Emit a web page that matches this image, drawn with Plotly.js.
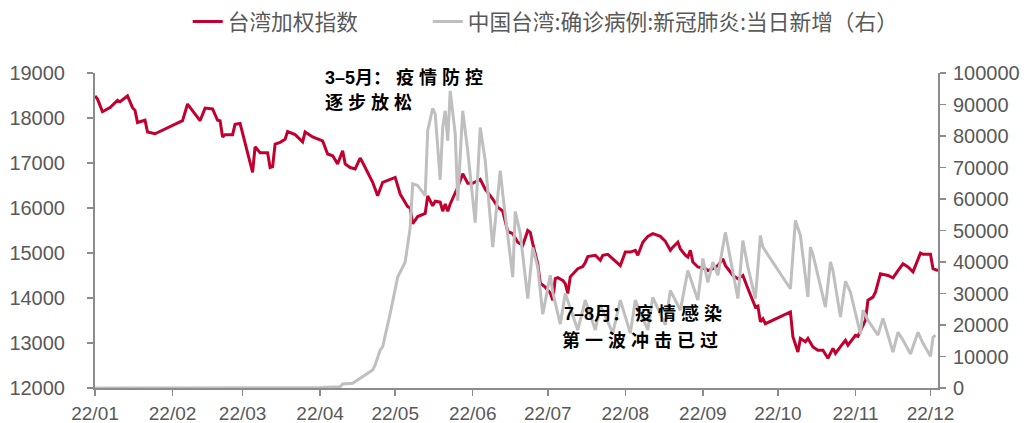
<!DOCTYPE html>
<html>
<head>
<meta charset="utf-8">
<script src="https://cdn.plot.ly/plotly-3.0.1.min.js"></script>
<style>
  html, body { margin: 0; padding: 0; background: #ffffff; }
  #chart { width: 1028px; height: 423px; }
</style>
</head>
<body>
<div id="chart"></div>
<script>
// 台湾加权指数（左轴）
const taiexDates = [
  '2022-01-01','2022-01-02','2022-01-04','2022-01-07','2022-01-10','2022-01-11','2022-01-14','2022-01-16','2022-01-17','2022-01-18','2022-01-21','2022-01-22','2022-01-25',
  '2022-02-05','2022-02-07','2022-02-09','2022-02-12','2022-02-14','2022-02-17','2022-02-19','2022-02-20','2022-02-21','2022-02-22','2022-02-25','2022-02-26','2022-02-28',
  '2022-03-03','2022-03-05','2022-03-06','2022-03-08','2022-03-11','2022-03-12','2022-03-13','2022-03-14','2022-03-16','2022-03-18','2022-03-19','2022-03-22','2022-03-25','2022-03-26','2022-03-29',
  '2022-04-02','2022-04-04','2022-04-06','2022-04-08','2022-04-10','2022-04-11','2022-04-13','2022-04-15','2022-04-17','2022-04-18','2022-04-21','2022-04-22','2022-04-24','2022-04-26',
  '2022-05-01','2022-05-03','2022-05-06','2022-05-07','2022-05-08','2022-05-10','2022-05-13','2022-05-14','2022-05-16','2022-05-17','2022-05-19','2022-05-20','2022-05-21','2022-05-22','2022-05-23','2022-05-26','2022-05-28','2022-05-30',
  '2022-06-01','2022-06-04','2022-06-06','2022-06-09','2022-06-11','2022-06-13','2022-06-15','2022-06-17','2022-06-19','2022-06-21','2022-06-23','2022-06-24','2022-06-25','2022-06-27','2022-06-28','2022-06-30',
  '2022-07-02','2022-07-03','2022-07-04','2022-07-05','2022-07-07','2022-07-08','2022-07-09','2022-07-10','2022-07-13','2022-07-15','2022-07-16','2022-07-17','2022-07-20','2022-07-22','2022-07-23','2022-07-25','2022-07-27','2022-07-29','2022-07-30',
  '2022-08-01','2022-08-03','2022-08-05','2022-08-06','2022-08-08','2022-08-10','2022-08-12','2022-08-15','2022-08-17','2022-08-19','2022-08-20','2022-08-22','2022-08-23','2022-08-25','2022-08-26','2022-08-27','2022-08-28','2022-08-30',
  '2022-09-02','2022-09-03','2022-09-05','2022-09-07','2022-09-09','2022-09-10','2022-09-11','2022-09-13','2022-09-15','2022-09-17','2022-09-19','2022-09-21','2022-09-22','2022-09-23','2022-09-24','2022-09-25','2022-09-26',
  '2022-10-06','2022-10-07','2022-10-09','2022-10-10','2022-10-12','2022-10-13','2022-10-15','2022-10-17','2022-10-19','2022-10-21','2022-10-23','2022-10-24','2022-10-27','2022-10-28','2022-10-29',
  '2022-11-01','2022-11-02','2022-11-05','2022-11-06','2022-11-08','2022-11-09','2022-11-11','2022-11-14','2022-11-16','2022-11-18','2022-11-20','2022-11-22','2022-11-24','2022-11-25','2022-11-27','2022-11-28',
  '2022-12-01','2022-12-02','2022-12-04'
];
const taiexValues = [
  18490,18420,18140,18230,18390,18360,18490,18230,18170,17900,17950,17690,17650,
  17940,18310,18170,17940,18220,18200,17950,17940,17580,17630,17630,17860,17880,
  17230,16790,17360,17230,17230,16900,16920,17420,17460,17530,17700,17630,17470,17690,17580,
  17490,17200,17160,16980,17270,16980,16900,16870,17110,17010,16680,16570,16270,16570,
  16680,16310,16030,16000,15650,15810,15880,16270,16050,16150,16130,15930,16090,15930,16090,16460,16760,16550,
  16550,16640,16420,16200,16020,15930,15480,15430,15240,15170,15500,15460,15210,14760,14330,14240,
  14110,13950,14430,14450,14390,14320,14100,14470,14650,14700,14790,14920,14950,14840,14950,14970,14870,14760,14720,
  15020,15020,15060,14950,15240,15370,15430,15370,15260,15060,15130,15240,15090,14950,14910,15060,14800,14690,
  14650,14610,14650,14720,14870,14720,14650,14500,14430,14500,14210,13950,13800,13820,13470,13540,13430,
  13690,13140,12800,13100,13030,13100,12910,12840,12840,12660,12880,12770,12990,13060,12950,
  13170,13150,13510,13950,14020,14130,14540,14500,14450,14610,14760,14690,14580,14720,15000,14970,
  14970,14650,14610
];

// 中国台湾 新冠肺炎确诊病例 当日新增（右轴）
const caseDates = [
  '2022-01-01','2022-02-01','2022-03-01','2022-04-01','2022-04-09','2022-04-10','2022-04-14','2022-04-17','2022-04-22','2022-04-23','2022-04-25','2022-04-26','2022-04-29',
  '2022-05-02','2022-05-03','2022-05-05','2022-05-07','2022-05-08','2022-05-10','2022-05-13','2022-05-14','2022-05-16','2022-05-17','2022-05-19','2022-05-20','2022-05-21','2022-05-22','2022-05-23','2022-05-25','2022-05-26','2022-05-28','2022-05-30',
  '2022-06-02','2022-06-04','2022-06-06','2022-06-09','2022-06-12','2022-06-13','2022-06-17','2022-06-18','2022-06-20','2022-06-23','2022-06-25','2022-06-27','2022-06-29',
  '2022-07-02','2022-07-03','2022-07-06','2022-07-08','2022-07-13','2022-07-16','2022-07-20','2022-07-22','2022-07-27','2022-07-30',
  '2022-08-03','2022-08-05','2022-08-10','2022-08-12','2022-08-17','2022-08-19','2022-08-23','2022-08-26','2022-08-30',
  '2022-09-01','2022-09-03','2022-09-05','2022-09-07','2022-09-10','2022-09-15','2022-09-17','2022-09-19','2022-09-22','2022-09-24','2022-09-25',
  '2022-10-06','2022-10-08','2022-10-10','2022-10-13','2022-10-14','2022-10-15','2022-10-20','2022-10-22','2022-10-23','2022-10-26','2022-10-28','2022-10-30',
  '2022-11-03','2022-11-04','2022-11-06','2022-11-10','2022-11-12','2022-11-16','2022-11-18','2022-11-20','2022-11-23','2022-11-26','2022-11-28',
  '2022-12-01','2022-12-02','2022-12-03'
];
const caseValues = [
  20,40,60,150,400,1270,1500,3070,5700,7300,12000,13100,23600,
  35200,36800,40000,51000,64800,64300,61100,81700,88800,87000,66100,82700,88000,78500,94300,80700,59500,88000,75300,
  52500,82700,72200,44700,69000,61600,35200,56000,49100,28400,44600,38400,23400,
  35800,30400,20300,30000,18400,27900,18400,26300,17400,27900,
  17400,27900,18400,28800,20000,31000,24700,37300,27900,
  41100,33500,40000,35800,49400,28400,46800,38400,28400,48400,44700,
  31500,53200,48400,28900,44700,42400,25700,40000,37300,22500,33900,30400,
  17100,24700,21500,16800,22100,11400,17700,15200,10800,17700,14200,
  10100,16100,16800
];

// 月份刻度
const monthTicks = ['2022-01-01','2022-02-01','2022-03-01','2022-04-01','2022-05-01','2022-06-01',
                    '2022-07-01','2022-08-01','2022-09-01','2022-10-01','2022-11-01','2022-12-01'];
const monthLabels = ['22/01','22/02','22/03','22/04','22/05','22/06','22/07','22/08','22/09','22/10','22/11','22/12'];
const leftTicks = [12000,13000,14000,15000,16000,17000,18000,19000];
const rightTicks = [0,10000,20000,30000,40000,50000,60000,70000,80000,90000,100000];

const seriesNames = ['台湾加权指数', '中国台湾:确诊病例:新冠肺炎:当日新增（右）'];

const axisGray = '#8c8c8c';
const labelGray = '#595959';
const numFont = {family: 'Liberation Sans, Arial, sans-serif', size: 20, color: labelGray};
const noteFont = {family: 'Liberation Sans, Noto Sans CJK SC, sans-serif', size: 18, color: '#000000'};
const legendFont = {family: 'Noto Sans CJK SC, sans-serif', size: 21.7, color: labelGray};

const traces = [
  {
    x: taiexDates, y: taiexValues, name: seriesNames[0],
    type: 'scatter', mode: 'lines', yaxis: 'y', legend: 'legend',
    line: {color: '#C2002F', width: 3}
  },
  {
    x: caseDates, y: caseValues, name: seriesNames[1],
    type: 'scatter', mode: 'lines', yaxis: 'y2', legend: 'legend2',
    line: {color: '#BFBFBF', width: 3}
  }
];

const baseAxis = {
  showgrid: false, zeroline: false,
  showline: true, linecolor: axisGray, linewidth: 2,
  ticks: 'outside', ticklen: 6, tickwidth: 1.5, tickcolor: axisGray,
  fixedrange: true
};

const layout = {
  width: 1028, height: 423,
  margin: {l: 95, r: 90, t: 73, b: 35, pad: 0, autoexpand: false},
  paper_bgcolor: '#ffffff', plot_bgcolor: '#ffffff',
  showlegend: true,
  legend: {
    orientation: 'h', x: 0.11, xanchor: 'left', y: 1.162, yanchor: 'middle',
    font: legendFont, bgcolor: 'rgba(0,0,0,0)'
  },
  legend2: {
    orientation: 'h', x: 0.3947, xanchor: 'left', y: 1.162, yanchor: 'middle',
    font: legendFont, bgcolor: 'rgba(0,0,0,0)'
  },
  xaxis: Object.assign({}, baseAxis, {
    type: 'date', range: ['2022-01-01', '2022-12-04'],
    tickmode: 'array', tickvals: monthTicks, ticktext: monthLabels,
    tickfont: {family: 'Liberation Sans, Arial, sans-serif', size: 19, color: labelGray},
    ticklabelstandoff: 1
  }),
  yaxis: Object.assign({}, baseAxis, {
    range: [12000, 19000], tickmode: 'array', tickvals: leftTicks,
    ticktext: leftTicks.map(String),
    tickfont: numFont, ticklabelstandoff: 18
  }),
  yaxis2: Object.assign({}, baseAxis, {
    overlaying: 'y', side: 'right', anchor: 'x',
    range: [0, 100000], tickmode: 'array', tickvals: rightTicks,
    ticktext: rightTicks.map(String),
    tickfont: numFont, ticklabelstandoff: 3
  }),
  annotations: [
    {xref: 'paper', yref: 'paper', x: 0.2705, y: 0.987, xanchor: 'left', yanchor: 'middle',
     text: '<b>3–5月： 疫 情 防 控</b>', showarrow: false, font: noteFont},
    {xref: 'paper', yref: 'paper', x: 0.2705, y: 0.905, xanchor: 'left', yanchor: 'middle',
     text: '<b>逐 步 放 松</b>', showarrow: false, font: noteFont},
    {xref: 'paper', yref: 'paper', x: 0.554, y: 0.238, xanchor: 'left', yanchor: 'middle',
     text: '<b>7–8月： 疫 情 感 染</b>', showarrow: false, font: noteFont},
    {xref: 'paper', yref: 'paper', x: 0.552, y: 0.152, xanchor: 'left', yanchor: 'middle',
     text: '<b>第 一 波 冲 击 已 过</b>', showarrow: false, font: noteFont}
  ]
};

Plotly.newPlot('chart', traces, layout, {staticPlot: true, displayModeBar: false});
</script>
</body>
</html>
